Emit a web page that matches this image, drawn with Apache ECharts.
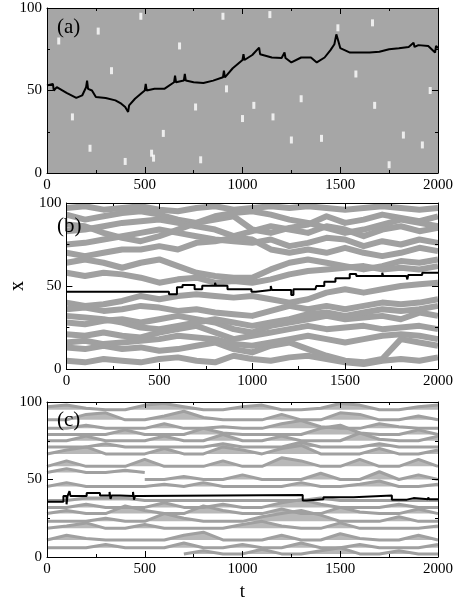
<!DOCTYPE html>
<html><head><meta charset="utf-8">
<script src="https://cdn.jsdelivr.net/npm/echarts@6/dist/echarts.min.js"></script>
<style>html,body{margin:0;padding:0;background:#fff}#c{width:458px;height:603px}</style>
</head><body><div id="c"></div>
<script>
// ---------- data ----------
const tGrid = [0,100,200,300,400,500,600,700,800,900,1000,1100,1200,1300,1400,1500,1600,1700,1800,1900,2000];
const xTicks = [0,500,1000,1500,2000];
const yTicks = [0,50,100];
const panelLabels = ['(a)','(b)','(c)'];
const xName = 't';
const yName = 'x';

// panel (a): occupied band, empty sites (white specks) and tagged walker
const bandA = [[0,100],[2000,100]];
const specksA = [[535,12],[545,9],[262,86],[678,77],[400,7],[595,24],[900,95],[130,34],[786,8],[1488,88],[918,51],[1058,41],[1000,33],[1404,21],[1676,41],[1920,17],[1140,96],[1665,91],[1823,23],[1156,34],[330,62],[760,40],[1250,20],[1580,60],[1960,50],[60,80],[480,95],[1300,45],[1750,5],[220,15]];
const blackA = [[0,53],[30,54],[35,50],[50,52],[100,48.5],[150,45.5],[180,47],[200,52],[205,56],[210,51],[230,50],[250,46],[300,45.5],[350,44],[380,42],[400,40],[415,37],[420,41],[450,45],[480,48],[500,50],[505,54],[510,50],[550,51],[600,51],[650,55],[655,59],[660,55],[700,56],[705,60],[710,56],[750,55],[800,54.5],[850,56],[900,58],[905,62],[910,58],[950,63.5],[1000,68.5],[1005,72],[1010,68.5],[1050,71.5],[1085,76],[1090,72],[1100,73],[1150,70],[1200,69.7],[1215,73],[1220,69.7],[1250,67],[1300,70],[1350,70],[1380,67],[1420,70],[1450,74.5],[1470,78],[1480,84],[1490,80],[1500,75.7],[1550,73],[1600,73],[1650,73],[1700,73.5],[1750,75],[1800,75.6],[1850,76.4],[1875,79],[1880,76.4],[1900,77.5],[1950,77],[1985,73],[1990,77],[2000,75.7]];

// panel (b): gray walkers (values at tGrid) and tagged walker (steps)
const grayB1 = [97,98,96,97,98,96,95,97,98,96,97,98,97,98,97,96,97,98,97,96,97];
const grayB2 = [93,90,92,94,95,93,90,88,90,92,84,82,85,87,92,88,90,93,91,89,92];
const grayB3 = [83,84,86,88,89,90,88,86,84,80,83,86,84,82,86,84,80,84,86,83,85];
const grayB4 = [75,76,78,80,82,84,82,80,78,77,76,78,74,76,79,78,74,77,75,78,76];
const grayB5 = [70,68,70,72,72,74,72,76,77,79,78,72,70,72,70,73,70,68,70,73,71];
const grayB6 = [64,66,64,61,64,66,62,58,56,55,55,60,64,66,64,62,60,62,65,64,66];
const grayB7 = [58,56,58,57,55,52,54,55,52,53,52,54,57,59,60,61,62,60,61,60,62];
const grayB8 = [40,38,39,41,44,42,44,45,44,43,44,42,40,42,46,48,46,48,50,51,52];
const grayB9 = [36,37,35,36,38,37,35,36,34,33,32,35,38,36,38,36,38,40,39,40,42];
const grayB10 = [28,27,29,30,28,30,32,30,28,24,22,26,28,30,32,30,31,32,30,34,32];
const grayB11 = [21,20,22,20,19,22,24,26,22,18,20,22,24,26,24,25,26,24,25,26,24];
const grayB12 = [13,12,14,12,13,11,12,14,16,12,10,14,16,12,8,5,4,6,18,16,14];
const grayB13 = [5,4,6,5,4,6,7,5,4,8,6,5,7,8,6,4,3,5,6,5,7];
const grayB14 = [87,86,82,79,77,80,84,88,92,94,95,93,90,88,85,82,84,87,90,88,86];
const grayB15 = [32,31,30,28,25,24,26,28,30,28,26,28,30,33,34,32,34,36,35,36,38];
const grayB16 = [16,17,15,16,17,18,20,19,18,15,14,16,18,20,18,16,18,20,21,20,18];
const blackB = [[0,46.6],[552,45],[595,49.2],[625,50.6],[690,48],[731,50.2],[800,52],[805,50.2],[867,48],[996,46.6],[1020,47.6],[1100,50],[1105,47.6],[1210,44.6],[1222,48],[1340,48.6],[1345,50],[1388,52.6],[1448,54.6],[1525,57.3],[1560,56],[1700,58],[1705,56],[1830,56.6],[1835,54],[1840,56.6],[1915,58],[2000,58]];

// panel (c): gray walkers (baseline level + excursions at tGrid) and tagged walker
const baseC = [95,88.5,83,79,75,71,66.5,58.5,54.5,50,45.5,36.5,32,28,23,18.5,11,6,2];
const grayC1 = [97,98,96,95,95,98,99,97,95,95,97,98,95,95,96,99,98,95,95,97,98];
const grayC2 = [88.5,88.5,92,93,88.5,88.5,91,94,90,88.5,88.5,88.5,92,88.5,88.5,93,92,88.5,88.5,91,88.5];
const grayC3 = [83,83,85,83,83,83,86,83,83,84,83,83,86,88,84,83,83,86,84,83,83];
const grayC4 = [79,79,79,79,82,79,79,79,83,80,79,79,79,79,83,85,80,79,79,82,79];
const grayC5 = [75,75,78,75,75,75,78,75,75,79,75,75,78,75,75,75,80,76,75,75,78];
const grayC6 = [71,71,71,73,71,71,71,71,71,73,71,71,71,74,71,71,71,73,71,71,71];
const grayC7 = [66.5,69,71,66.5,66.5,66.5,70,66.5,66.5,71,69,66.5,70,72,66.5,66.5,66.5,70,66.5,66.5,69];
const grayC8 = [58.5,62,58.5,58.5,58.5,63,58.5,58.5,58.5,62,58.5,58.5,64,62,58.5,58.5,63,58.5,58.5,63,58.5];
const grayC9 = [54.5,57,54.5,54.5,56,54.5,null,null,null,null,null,null,null,null,null,null,null,null,null,null,null];
const grayC10 = [null,null,null,null,null,50,50,52,50,50,53,50,50,50,54,50,50,55,50,53,50];
const grayC11 = [45.5,48,45.5,45.5,45.5,45.5,47,45.5,48,45.5,45.5,45.5,45.5,48,45.5,45.5,47,49,45.5,45.5,47];
const grayC12 = [36.5,36.5,38,38,38,36.5,36.5,36.5,36.5,36.5,36.5,36.5,36.5,36.5,38,36.5,36.5,36.5,36.5,36.5,36.5];
const grayC13 = [32,32,34,32,32,32,35,32,32,34,32,32,35,37,34,32,32,32,34,32,32];
const grayC14 = [28,30,28,28,33,30,28,28,33,30,28,28,31,28,28,32,29,28,28,31,28];
const grayC15 = [23,23,23,25,23,23,28,25,23,23,23,26,28,30,27,23,23,23,26,23,23];
const grayC16 = [18.5,20,22,18.5,18.5,21,18.5,18.5,18.5,18.5,21,23,20,18.5,18.5,22,18.5,18.5,18.5,18.5,20];
const grayC17 = [11,14,12,11,11,11,11,14,16,11,11,11,14,11,11,15,12,11,11,14,11];
const grayC18 = [6,6,6,8,6,6,6,9,6,6,8,6,6,9,6,6,8,6,6,6,8];
const grayC19 = [null,null,null,null,null,null,null,2,4,2,2,5,2,2,4,6,2,2,4,2,2];
const blackC = [[0,35.6],[84,39.3],[100,34],[105,39.3],[115,42.5],[120,39.3],[203,41.3],[271,39.6],[320,42],[325,37.5],[330,39.6],[373,39.3],[440,42],[445,37],[450,39.3],[476,40],[1308,36.5],[1329,37.2],[1414,38.6],[1568,39.6],[1764,37],[1841,38],[1875,37.2],[1950,38.5],[1955,37.2],[2000,37.2]];

// ---------- chart ----------
const GRAY = '#a0a0a0';
const FONT = 'Liberation Serif';
const grids = [
  {left:47, top:8, width:391, height:165},
  {left:47, top:203, width:391, height:166},
  {left:47, top:402, width:391, height:165}
];
const xAxes = [], yAxes = [];
grids.forEach((g, i) => {
  const common = {
    gridIndex:i, type:'value', min:0, z:10,
    axisLine:{show:true, onZero:false, lineStyle:{color:'#000', width:1}},
    axisTick:{show:true, inside:true, length:6, lineStyle:{color:'#000'}},
    minorTick:{show:true, splitNumber:2, length:3, lineStyle:{color:'#000'}},
    splitLine:{show:false}
  };
  xAxes.push(Object.assign({}, common, {
    max:2000, interval:500, position:'bottom',
    axisLabel:{color:'#000', fontFamily:FONT, fontSize:15, margin:5, formatter:v => xTicks.includes(v) ? String(v) : ''},
    name: i === 2 ? xName : '', nameLocation:'middle', nameGap:26,
    nameTextStyle:{color:'#000', fontFamily:FONT, fontSize:19}
  }));
  xAxes.push(Object.assign({}, common, {max:2000, interval:500, position:'top', axisLabel:{show:false}}));
  yAxes.push(Object.assign({}, common, {
    max:100, interval:50, position:'left',
    axisLabel:{color:'#000', fontFamily:FONT, fontSize:15, margin:5, formatter:v => yTicks.includes(v) ? String(v) : ''},
    name: i === 1 ? yName : '', nameLocation:'middle', nameGap:36, nameRotate:90,
    nameTextStyle:{color:'#000', fontFamily:FONT, fontSize:20}
  }));
  yAxes.push(Object.assign({}, common, {max:100, interval:50, position:'right', axisLabel:{show:false}}));
});

const series = [];
function grayLine(panel, arr, width) {
  series.push({
    type:'line', xAxisIndex:2*panel, yAxisIndex:2*panel, silent:true, z:1,
    showSymbol:false, symbol:'none', connectNulls:false,
    data: tGrid.map((t, k) => [t, arr[k]]),
    lineStyle:{color:GRAY, width:width, join:'round', cap:'butt'}
  });
}
function grayMound(panel, arr, base) {
  series.push({
    type:'line', xAxisIndex:2*panel, yAxisIndex:2*panel, silent:true, z:1,
    showSymbol:false, symbol:'none',
    data: tGrid.map((t, k) => [t, arr[k]]),
    lineStyle:{color:GRAY, width:3},
    areaStyle:{color:GRAY, opacity:0.75, origin:base}
  });
}
function blackLine(panel, pts, step) {
  series.push({
    type:'line', xAxisIndex:2*panel, yAxisIndex:2*panel, silent:true, z:3,
    showSymbol:false, symbol:'none', step: step ? 'end' : false,
    data: pts, lineStyle:{color:'#000', width:2}
  });
}

// (a)
series.push({
  type:'line', xAxisIndex:0, yAxisIndex:0, silent:true, z:1, showSymbol:false, symbol:'none',
  data: bandA, lineStyle:{width:0}, areaStyle:{color:'#a6a6a6', opacity:1, origin:'start'}
});
series.push({
  type:'scatter', xAxisIndex:0, yAxisIndex:0, silent:true, z:2,
  symbol:'rect', symbolSize:[3,7], data: specksA, itemStyle:{color:'#ffffff'}
});
blackLine(0, blackA, false);
// (b)
[grayB1,grayB2,grayB3,grayB4,grayB5,grayB6,grayB7,grayB8,grayB9,grayB10,grayB11,grayB12,grayB13,grayB14,grayB15,grayB16]
  .forEach(a => grayLine(1, a, 6));
blackLine(1, blackB, true);
// (c)
[grayC1,grayC2,grayC3,grayC4,grayC5,grayC6,grayC7,grayC8,grayC9,grayC10,grayC11,grayC12,grayC13,grayC14,grayC15,grayC16,grayC17,grayC18,grayC19]
  .forEach((a, k) => grayMound(2, a, baseC[k]));
blackLine(2, blackC, true);

const labelTops = [17, 216, 410];
const chart = echarts.init(document.getElementById('c'), null, {renderer:'canvas'});
chart.setOption({
  animation:false,
  backgroundColor:'#fff',
  title: panelLabels.map((s, i) => ({
    text:s, left:57, top:labelTops[i], padding:0, z:20,
    textStyle:{color:'#000', fontFamily:FONT, fontSize:21, fontWeight:'normal'}
  })),
  grid: grids,
  xAxis: xAxes,
  yAxis: yAxes,
  series: series
});
</script></body></html>
